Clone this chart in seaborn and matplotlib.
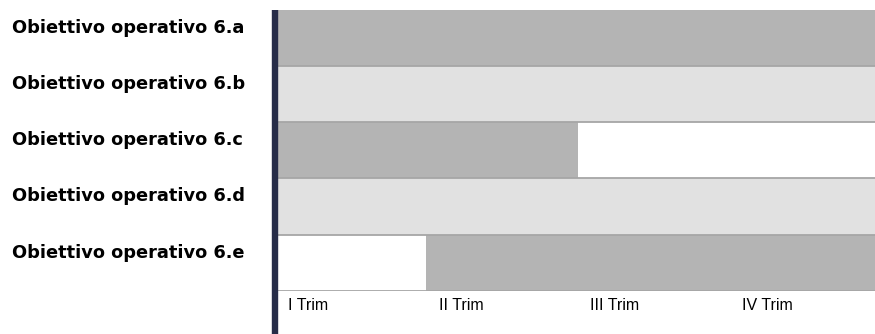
import seaborn as sns
import numpy as np
import matplotlib
matplotlib.use('Agg')
import matplotlib.pyplot as plt
from matplotlib.lines import Line2D
from matplotlib.transforms import ScaledTranslation

# data
tasks = ['Obiettivo operativo 6.a', 'Obiettivo operativo 6.b', 'Obiettivo operativo 6.c',
         'Obiettivo operativo 6.d', 'Obiettivo operativo 6.e']
start_q = [0, 0, 0, 0, 1]
end_q = [4, 4, 2, 4, 4]
shade = ['dark', 'light', 'dark', 'light', 'dark']
quarters = ['I Trim', 'II Trim', 'III Trim', 'IV Trim']

palette = {'dark': '#b4b4b4', 'light': '#e1e1e1'}

sns.set_theme(style='white')
plt.rcParams['font.family'] = ['Liberation Sans', 'DejaVu Sans']

fig = plt.figure(figsize=(8.75, 3.34), dpi=100)
ax = fig.add_axes([275 / 875, 43.3 / 334, 605 / 875, 280.7 / 334])

ypos = np.arange(len(tasks))
widths = np.array(end_q) - np.array(start_q)
ax.barh(ypos, widths, left=start_q, height=1.0,
        color=[palette[s] for s in shade], linewidth=0)

# row separators
for b in np.arange(0.5, len(tasks), 1.0):
    ax.axhline(b, color='#a6a6a6', lw=1.3, zorder=3)

ax.set_xlim(0, 4)
ax.set_ylim(len(tasks) - 0.5, -0.5)
for s in ax.spines.values():
    s.set_visible(False)

# y labels: left aligned, sitting a bit above row centre
ax.set_yticks(ypos)
ax.set_yticklabels(tasks, ha='left', family='DejaVu Sans', fontweight='bold',
                   fontsize=12.8, color='black')
ax.tick_params(axis='y', length=0, pad=189)
for lab in ax.get_yticklabels():
    lab.set_transform(lab.get_transform() + ScaledTranslation(0, 12 / 100, fig.dpi_scale_trans))

# x labels: left aligned just after each quarter start
ax.set_xticks(np.arange(len(quarters)))
ax.set_xticklabels(quarters, ha='left', fontsize=11.5, color='black')
ax.tick_params(axis='x', length=0, pad=5)
for lab in ax.get_xticklabels():
    lab.set_transform(lab.get_transform() + ScaledTranslation(13 / 100, 0, fig.dpi_scale_trans))

# thick dark axis line running down to the bottom edge
fig.add_artist(Line2D([275 / 875, 275 / 875], [0, 1 - 10 / 334], transform=fig.transFigure,
                      color='#262c48', lw=4.6, solid_capstyle='butt'))

fig.savefig('out.png', dpi=100)
